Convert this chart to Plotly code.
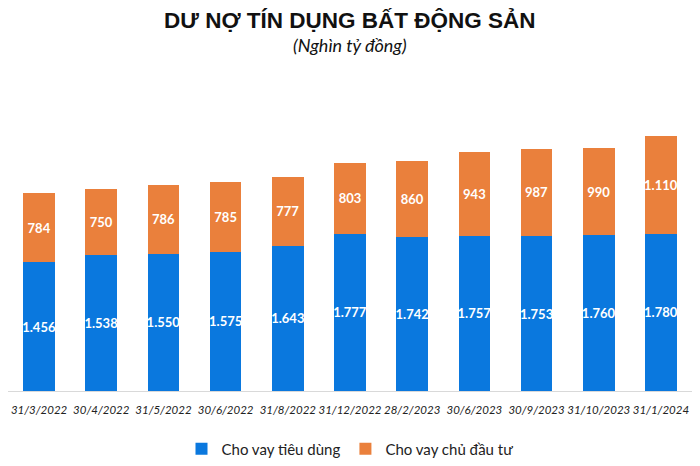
import plotly.graph_objects as go

dates = ["31/3/2022", "30/4/2022", "31/5/2022", "30/6/2022", "31/8/2022", "31/12/2022",
         "28/2/2023", "30/6/2023", "30/9/2023", "31/10/2023", "31/1/2024"]
tieu_dung = [1456, 1538, 1550, 1575, 1643, 1777, 1742, 1757, 1753, 1760, 1780]
chu_dau_tu = [784, 750, 786, 785, 777, 803, 860, 943, 987, 990, 1110]

def fmt(v):
    return f"{v:,}".replace(",", ".")

fig = go.Figure()
fig.add_trace(go.Bar(
    x=dates, y=tieu_dung, name="Cho vay tiêu dùng",
    marker=dict(color="#0A78DE", line=dict(width=0)),
    text=[fmt(v) for v in tieu_dung], textposition="inside", insidetextanchor="middle",
    textangle=0, textfont=dict(color="white", size=13, family="Lato", weight="bold"),
))
fig.add_trace(go.Bar(
    x=dates, y=chu_dau_tu, name="Cho vay chủ đầu tư",
    marker=dict(color="#EA803C", line=dict(width=0)),
    text=[fmt(v) for v in chu_dau_tu], textposition="inside", insidetextanchor="middle",
    textangle=0, textfont=dict(color="white", size=13, family="Lato", weight="bold"),
))

fig.update_layout(
    width=700, height=466,
    margin=dict(l=8, r=8, t=100, b=75, autoexpand=False),
    barmode="stack", bargap=0.49,
    plot_bgcolor="white", paper_bgcolor="white",
    uniformtext=dict(minsize=12, mode="show"),
    font=dict(family="Lato", color="#222"),
    showlegend=True,
    legend=dict(orientation="h", x=0.5, xanchor="center", y=(391 - 449) / 291, yanchor="middle",
                font=dict(size=15, family="Lato", color="#222"), traceorder="normal",
                itemwidth=30),
    xaxis=dict(showline=True, linecolor="#D9D9D9", linewidth=1, ticks="", tickangle=0,
               ticklabelstandoff=8,
               tickfont=dict(size=11.5, family="Lato", style="italic", color="#222")),
    yaxis=dict(visible=False, range=[0, 3292]),
    annotations=[
        dict(text="<b>DƯ NỢ TÍN DỤNG BẤT ĐỘNG SẢN</b>", x=0.5, xref="paper",
             y=(391 - 20) / 291, yref="paper", yanchor="middle", showarrow=False,
             font=dict(family="Liberation Sans", size=22.5, color="#111")),
        dict(text="<i>(Nghìn tỷ đồng)</i>", x=0.5, xref="paper",
             y=(391 - 45) / 291, yref="paper", yanchor="middle", showarrow=False,
             font=dict(family="Lato", size=18, color="#111")),
    ],
)

fig.write_html("out.html")
